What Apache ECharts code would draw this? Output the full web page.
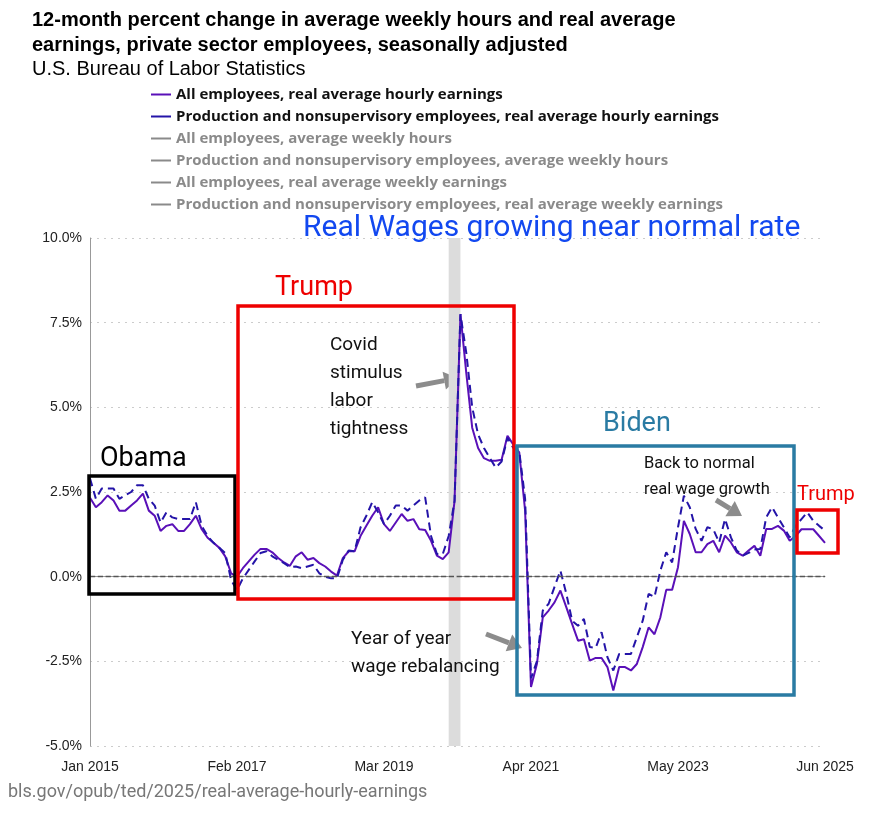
<html>
<head>
<meta charset="utf-8">
<script src="https://cdn.jsdelivr.net/npm/echarts@6/dist/echarts.min.js"></script>
<style>body{margin:0;background:#fff}#chart{width:870px;height:814px}</style>
</head>
<body>
<div id="chart"></div>
<script type="text/javascript">
// months Jan 2015 .. Jun 2025
var monthNames = ['Jan','Feb','Mar','Apr','May','Jun','Jul','Aug','Sep','Oct','Nov','Dec'];
var months = [];
for (var y = 2015; y <= 2025; y++) {
	for (var m = 0; m < 12; m++) {
		if (y === 2025 && m > 5) break;
		months.push(monthNames[m] + ' ' + y);
	}
}

// all employees, real average hourly earnings (12-month % change)
var allEmployees = [
	2.33,2.05,2.2,2.4,2.25,1.95,1.95,2.1,2.25,2.45,1.95,1.8,1.35,1.5,1.55,1.35,1.35,1.55,1.8,1.4,1.15,1.0,0.85,0.6,0.1,
	0.0,0.25,0.45,0.65,0.82,0.82,0.72,0.55,0.42,0.32,0.6,0.72,0.5,0.55,0.4,0.3,0.15,0.03,0.55,0.75,0.75,1.2,1.5,1.8,2.05,
	1.55,1.35,1.6,1.85,1.65,1.7,1.4,1.38,1.06,0.62,0.52,0.72,2.24,7.75,6.0,4.4,3.8,3.5,3.42,3.42,3.45,4.16,3.9,
	3.67,1.95,-3.26,-2.58,-1.2,-1.0,-0.76,-0.41,-0.9,-1.4,-1.89,-1.85,-2.48,-2.4,-2.4,-2.67,-3.36,-2.67,-2.67,-2.77,-2.58,-2.08,
	-1.5,-1.7,-1.2,-0.39,-0.39,0.28,1.65,1.26,0.72,0.72,0.96,1.06,0.72,1.21,1.01,0.72,0.62,0.77,0.91,0.62,1.41,1.41,1.5,1.36,
	1.06,1.2,1.4,1.4,1.4,1.2,1.0
];
// production and nonsupervisory employees, real average hourly earnings
var prodEmployees = [
	2.9,2.3,2.6,2.6,2.6,2.3,2.4,2.5,2.7,2.7,2.3,2.1,1.6,1.9,1.75,1.7,1.7,1.7,2.2,1.5,1.2,1.0,0.85,0.7,-0.1,
	-0.4,-0.05,0.2,0.45,0.7,0.75,0.6,0.5,0.4,0.28,0.3,0.25,0.3,0.35,0.1,0.0,-0.05,-0.05,0.5,0.77,0.75,1.45,1.8,2.2,1.9,
	1.55,1.8,2.1,2.1,1.95,2.1,2.25,2.34,1.2,0.67,0.67,1.2,2.24,7.75,6.6,5.0,4.2,3.8,3.5,3.22,3.4,4.1,3.8,
	3.7,2.3,-3.0,-2.5,-1.0,-0.8,-0.3,0.18,-0.5,-1.3,-1.45,-1.25,-2.08,-2.1,-1.64,-2.38,-2.77,-2.28,-2.28,-2.28,-1.79,-1.3,
	-0.51,-0.6,0.18,0.72,0.42,1.46,2.39,2.05,1.41,1.06,1.46,1.4,1.01,1.7,1.16,0.77,0.62,0.7,0.8,0.82,1.75,2.05,1.75,1.46,
	1.16,1.5,1.7,1.9,1.65,1.5,1.36
];
var yTicks = [-5, 10, 2.5];
var seriesNames = [
	'All employees, real average hourly earnings',
	'Production and nonsupervisory employees, real average hourly earnings',
	'All employees, average weekly hours',
	'Production and nonsupervisory employees, average weekly hours',
	'All employees, real average weekly earnings',
	'Production and nonsupervisory employees, real average weekly earnings'
];

var chart = echarts.init(document.getElementById('chart'));
var selected = {};
seriesNames.forEach(function (n, i) { selected[n] = i < 2; });

function arrow(x1, y1, x2, y2) {
	var a = Math.atan2(y2 - y1, x2 - x1), L = 14, W = 9;
	var bx = x2 - L * Math.cos(a), by = y2 - L * Math.sin(a);
	return [
		{ type: 'line', shape: { x1: x1, y1: y1, x2: bx, y2: by }, style: { stroke: '#8c8c8c', lineWidth: 5 } },
		{ type: 'polygon', shape: { points: [[x2, y2], [bx + W * Math.sin(a), by - W * Math.cos(a)], [bx - W * Math.sin(a), by + W * Math.cos(a)]] }, style: { fill: '#8c8c8c' } }
	];
}
function box(x, y, w, h, c) {
	return { type: 'rect', shape: { x: x, y: y, width: w, height: h }, style: { fill: 'none', stroke: c, lineWidth: 3.5 }, z: 10 };
}
function txt(x, y, s, font, c, extra) {
	var st = { text: s, x: x, y: y, fill: c, font: font };
	if (extra) for (var k in extra) st[k] = extra[k];
	return { type: 'text', style: st, z: 11 };
}

var graphics = [
	txt(32, 10, '12-month percent change in average weekly hours and real average', 'bold 20px Arial, sans-serif', '#000'),
	txt(32, 35, 'earnings, private sector employees, seasonally adjusted', 'bold 20px Arial, sans-serif', '#000'),
	txt(32, 59, 'U.S. Bureau of Labor Statistics', '20px Arial, sans-serif', '#000'),
	box(89, 476, 146, 118, '#000'),
	box(238, 306, 276, 293, '#ee0000'),
	box(517, 446, 277, 249, '#2a7ba3'),
	box(797, 510, 41, 43, '#ee0000'),
	txt(303, 213, 'Real Wages growing near normal rate', '30px Roboto, sans-serif', '#1248f0'),
	txt(275, 275, 'Trump', '27px Roboto, sans-serif', '#ee0000'),
	txt(100, 446, 'Obama', '27px Roboto, sans-serif', '#000'),
	txt(603, 411, 'Biden', '27px Roboto, sans-serif', '#2a7ba3'),
	txt(797, 485, 'Trump', '20px Roboto, sans-serif', '#ee0000'),
	txt(330, 331, 'Covid\nstimulus\nlabor\ntightness', '19px Roboto, sans-serif', '#111', { lineHeight: 28 }),
	txt(351, 625, 'Year of year\nwage rebalancing', '19px Roboto, sans-serif', '#111', { lineHeight: 28 }),
	txt(644, 451, 'Back to normal\nreal wage growth', '16.5px Roboto, sans-serif', '#111', { lineHeight: 26 }),
	txt(8, 783, 'bls.gov/opub/ted/2025/real-average-hourly-earnings', '18px Roboto, sans-serif', '#777')
].concat(arrow(416, 386, 458, 378), arrow(486, 634, 522, 648), arrow(716, 500, 742, 516));

var series = seriesNames.map(function (n, i) {
	return {
		name: n, type: 'line', symbol: 'none', data: [],
		lineStyle: { width: 2, type: i % 2 ? 'dashed' : 'solid', color: '#999' },
		itemStyle: { color: '#999' }
	};
});
series[0].data = allEmployees;
series[0].lineStyle = { width: 2, color: '#5a10b8' };
series[0].itemStyle = { color: '#5a10b8' };
series[0].z = 3;
series[0].markArea = {
	silent: true,
	itemStyle: { color: '#dcdcdc' },
	data: [[{ xAxis: 'Feb 2020' }, { xAxis: 'Apr 2020' }]]
};
series[0].markLine = {
	silent: true, symbol: 'none', label: { show: false },
	lineStyle: { color: '#555', type: 'dashed', width: 1.3 },
	data: [{ yAxis: 0 }]
};
series[1].data = prodEmployees;
series[1].lineStyle = { width: 2, type: [8, 5], color: '#2414a8' };
series[1].itemStyle = { color: '#2414a8' };
series[1].z = 4;

var option = {
	animation: false,
	grid: { left: 90, right: 45, top: 238, bottom: 68 },
	legend: {
		orient: 'vertical', left: 146, top: 82, itemGap: 7, itemWidth: 20, itemHeight: 2,
		icon: 'rect',
		data: seriesNames, selected: selected, inactiveColor: '#8a8a8a',
		textStyle: { fontSize: 15, fontWeight: 'bold', color: '#111', fontFamily: 'Open Sans, sans-serif' }
	},
	xAxis: {
		type: 'category', data: months, boundaryGap: false,
		axisLine: { lineStyle: { color: '#999' } },
		axisTick: { show: false },
		axisLabel: { interval: 24, color: '#222', fontSize: 14, margin: 14 }
	},
	yAxis: {
		type: 'value', min: yTicks[0], max: yTicks[1], interval: yTicks[2],
		axisLine: { show: true, lineStyle: { color: '#999' } },
		axisLabel: { color: '#222', fontSize: 14, formatter: function (v) { return v.toFixed(1) + '%'; } },
		splitLine: { lineStyle: { color: '#ccc', type: [2, 5] } }
	},
	series: series,
	graphic: graphics
};
chart.setOption(option);
</script>
</body>
</html>
